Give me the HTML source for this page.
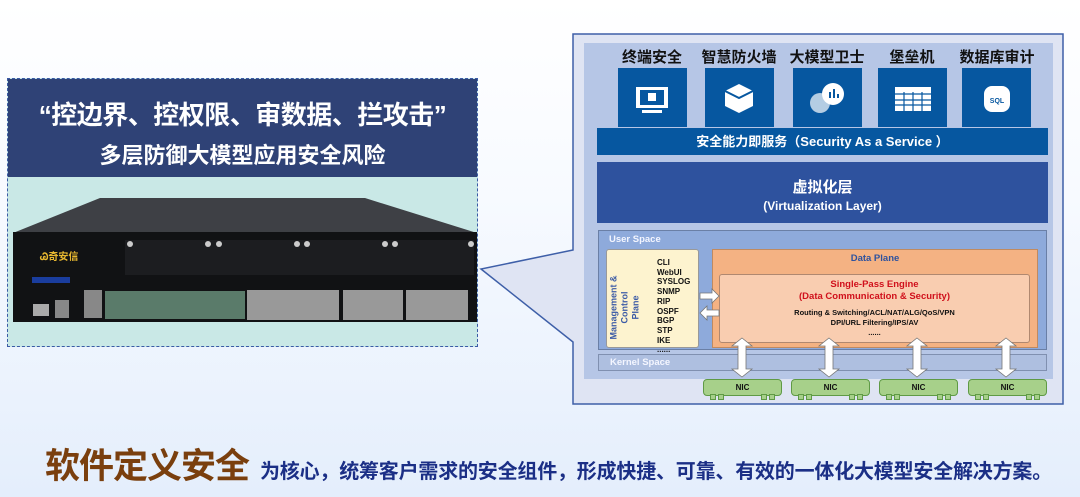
<!DOCTYPE html>
<html><head><meta charset="utf-8"><style>
*{margin:0;padding:0;box-sizing:border-box}
body{width:1080px;height:497px;overflow:hidden;position:relative;background:linear-gradient(#ffffff 0%,#f7faff 40%,#e4eefc 100%);font-family:"Liberation Sans","Noto Sans CJK SC",sans-serif}
.a{position:absolute}
.cn{font-family:"Liberation Sans","Noto Sans CJK SC",sans-serif;font-weight:bold}
.ib{position:absolute;top:68px;width:69px;height:59px;background:#0657a0}
.lbl{position:absolute;top:46px;font-size:15px;font-weight:bold;color:#111;white-space:nowrap;text-align:center;width:100px}
.nic{position:absolute;top:379px;width:79px;height:17px;background:#a7d08a;border:1px solid #5f9a45;border-radius:4px;font-size:8px;font-weight:bold;text-align:center;line-height:15px;color:#111}
.sq{position:absolute;top:14px;width:6px;height:6px;background:#a7d08a;border:1px solid #5f9a45}
.ml{font-size:8px;font-weight:bold;line-height:9.7px;color:#111}
</style></head><body>

<svg class="a" style="left:0;top:0" width="1080" height="497">
<polygon points="573,34 1063,34 1063,404 573,404 573,342 481,269 573,250" fill="#dfe4f3" stroke="#3e5fa8" stroke-width="1.5"/>
<rect x="584" y="43" width="469" height="336" fill="#b6c6e6"/>
</svg>

<div class="lbl cn" style="left:602px">终端安全</div>
<div class="lbl cn" style="left:689px">智慧防火墙</div>
<div class="lbl cn" style="left:777px">大模型卫士</div>
<div class="lbl cn" style="left:862px">堡垒机</div>
<div class="lbl cn" style="left:947px">数据库审计</div>

<div class="ib" style="left:618px"><svg width="69" height="59"><rect x="18" y="19" width="32" height="21" fill="#fff"/><rect x="22" y="22" width="24" height="15" fill="#0657a0"/><rect x="30" y="25" width="8" height="8" fill="#fff"/><rect x="24" y="42" width="20" height="3" fill="#fff"/></svg></div>
<div class="ib" style="left:705px"><svg width="69" height="59"><polygon points="34,16 48,23 48,38 34,45 20,38 20,23" fill="#fff"/><polyline points="20,23 34,30 48,23 M34,30 L34,45" fill="none" stroke="#0657a0" stroke-width="2"/></svg></div>
<div class="ib" style="left:793px"><svg width="69" height="59"><circle cx="27" cy="35" r="10" fill="#fff" opacity=".7"/><circle cx="40" cy="26" r="11" fill="#fff"/><rect x="36" y="24" width="2" height="6" fill="#0657a0"/><rect x="40" y="21" width="2" height="9" fill="#0657a0"/><rect x="44" y="26" width="2" height="4" fill="#0657a0"/></svg></div>
<div class="ib" style="left:878px"><svg width="69" height="59"><rect x="17" y="19" width="36" height="24" fill="#fff"/><g stroke="#0657a0" stroke-width="1.2"><line x1="17" y1="26" x2="53" y2="26"/><line x1="17" y1="32" x2="53" y2="32"/><line x1="17" y1="37" x2="53" y2="37"/><line x1="26" y1="24" x2="26" y2="43"/><line x1="35" y1="24" x2="35" y2="43"/><line x1="44" y1="24" x2="44" y2="43"/></g></svg></div>
<div class="ib" style="left:962px"><svg width="69" height="59"><rect x="22" y="18" width="26" height="26" rx="8" fill="#fff"/><text x="35" y="35" font-size="7" font-weight="bold" text-anchor="middle" fill="#0657a0" font-family="Liberation Sans">SQL</text></svg></div>

<div class="a cn" style="left:597px;top:128px;width:451px;height:27px;background:#0657a0;color:#fff;font-size:13px;text-align:center;line-height:27px">安全能力即服务（Security As a Service ）</div>
<div class="a cn" style="left:597px;top:162px;width:451px;height:61px;background:#2e529e;color:#fff;text-align:center"><div style="font-size:15px;margin-top:14px">虚拟化层</div><div style="font-size:12px;margin-top:2px">(Virtualization Layer)</div></div>

<div class="a" style="left:598px;top:230px;width:449px;height:120px;background:#8eaadb;border:1px solid #6a7fa6"></div>
<div class="a cn" style="left:609px;top:234px;font-size:9.5px;color:#f4f6ff">User Space</div>
<div class="a" style="left:598px;top:354px;width:449px;height:17px;background:#aebfe0;border:1px solid #8090b0"></div>
<div class="a cn" style="left:610px;top:357px;font-size:9.5px;color:#f4f6ff">Kernel Space</div>

<div class="a" style="left:606px;top:249px;width:93px;height:99px;background:#fdf3cf;border:1px solid #999;border-radius:3px"></div>
<div class="a cn" style="left:575px;top:291px;width:100px;transform:rotate(-90deg);font-size:9px;color:#3b5aa6;text-align:center;line-height:11px">Management &amp;<br>Control<br>Plane</div>
<div class="a ml" style="left:657px;top:258px">CLI<br>WebUI<br>SYSLOG<br>SNMP<br>RIP<br>OSPF<br>BGP<br>STP<br>IKE<br>......</div>

<div class="a" style="left:712px;top:249px;width:326px;height:99px;background:#f4b283;border:1px solid #c08a60"></div>
<div class="a cn" style="left:712px;top:253px;width:326px;text-align:center;font-size:9.5px;color:#2e529e">Data Plane</div>
<div class="a" style="left:719px;top:274px;width:311px;height:69px;background:#f9cdb0;border:1px solid #b08870;border-radius:3px;text-align:center">
<div class="cn" style="font-size:9.5px;color:#d0101b;margin-top:4px;line-height:12px">Single-Pass Engine<br>(Data Communication &amp; Security)</div>
<div class="cn" style="font-size:7.5px;color:#111;margin-top:5px;line-height:10px">Routing &amp; Switching/ACL/NAT/ALG/QoS/VPN<br>DPI/URL Filtering/IPS/AV<br>......</div></div>

<svg class="a" style="left:0;top:0" width="1080" height="497">
<g fill="#fff" stroke="#777" stroke-width="0.8">
<polygon points="700,293 712,293 712,289 719,296 712,303 712,299 700,299"/>
<polygon points="719,310 707,310 707,306 700,313 707,320 707,316 719,316"/>
<polygon id="da" points="742,338 752,346 746,346 746,369 752,369 742,377 732,369 738,369 738,346 732,346"/>
<use href="#da" x="87"/><use href="#da" x="175"/><use href="#da" x="264"/>
</g></svg>

<div class="nic" style="left:703px">NIC<div class="sq" style="left:6px"></div><div class="sq" style="left:14px"></div><div class="sq" style="left:57px"></div><div class="sq" style="left:65px"></div></div>
<div class="nic" style="left:791px">NIC<div class="sq" style="left:6px"></div><div class="sq" style="left:14px"></div><div class="sq" style="left:57px"></div><div class="sq" style="left:65px"></div></div>
<div class="nic" style="left:879px">NIC<div class="sq" style="left:6px"></div><div class="sq" style="left:14px"></div><div class="sq" style="left:57px"></div><div class="sq" style="left:65px"></div></div>
<div class="nic" style="left:968px">NIC<div class="sq" style="left:6px"></div><div class="sq" style="left:14px"></div><div class="sq" style="left:57px"></div><div class="sq" style="left:65px"></div></div>

<div class="a" style="left:7px;top:78px;width:471px;height:269px;background:#c9e8e6;border:1.5px dashed #3b5aa6"></div>
<div class="a cn" style="left:8px;top:79px;width:469px;height:98px;background:#2f4276;color:#fff;text-align:center">
<div style="font-size:26px;margin-top:16px;white-space:nowrap;letter-spacing:-0.5px">“控边界、控权限、审数据、拦攻击”</div>
<div style="font-size:22px;margin-top:6px;white-space:nowrap">多层防御大模型应用安全风险</div></div>
<svg class="a" style="left:0;top:0" width="480" height="340">
<polygon points="13,233 100,198 365,198 477,233" fill="#3e4045"/>
<rect x="13" y="232" width="464" height="90" fill="#111214"/>
<rect x="125" y="240" width="349" height="35" fill="#1c1d20"/>
<g fill="#ccc"><circle cx="130" cy="244" r="3"/><circle cx="208" cy="244" r="3"/><circle cx="219" cy="244" r="3"/><circle cx="297" cy="244" r="3"/><circle cx="307" cy="244" r="3"/><circle cx="385" cy="244" r="3"/><circle cx="395" cy="244" r="3"/><circle cx="471" cy="244" r="3"/></g>
<text x="40" y="260" font-size="10" fill="#e8b830" font-weight="bold" font-family="Liberation Sans,Noto Sans CJK SC">Ꮚ奇安信</text>
<rect x="32" y="277" width="38" height="6" fill="#1a3d9e"/>
<rect x="105" y="291" width="140" height="28" fill="#5a7b6a"/>
<rect x="247" y="290" width="92" height="30" fill="#999"/>
<rect x="343" y="290" width="60" height="30" fill="#999"/>
<rect x="406" y="290" width="62" height="30" fill="#999"/>
<rect x="84" y="290" width="18" height="28" fill="#888"/>
<rect x="55" y="300" width="14" height="18" fill="#888"/>
<rect x="33" y="304" width="16" height="12" fill="#aaa"/>
</svg>

<div class="a cn" style="left:45px;top:438px;font-size:35px;color:#7a3f0e;white-space:nowrap;letter-spacing:-1px">软件定义安全</div>
<div class="a cn" style="left:260px;top:455px;font-size:20px;color:#1b2f86;white-space:nowrap;letter-spacing:-0.2px">为核心，统筹客户需求的安全组件，形成快捷、可靠、有效的一体化大模型安全解决方案。</div>
</body></html>
